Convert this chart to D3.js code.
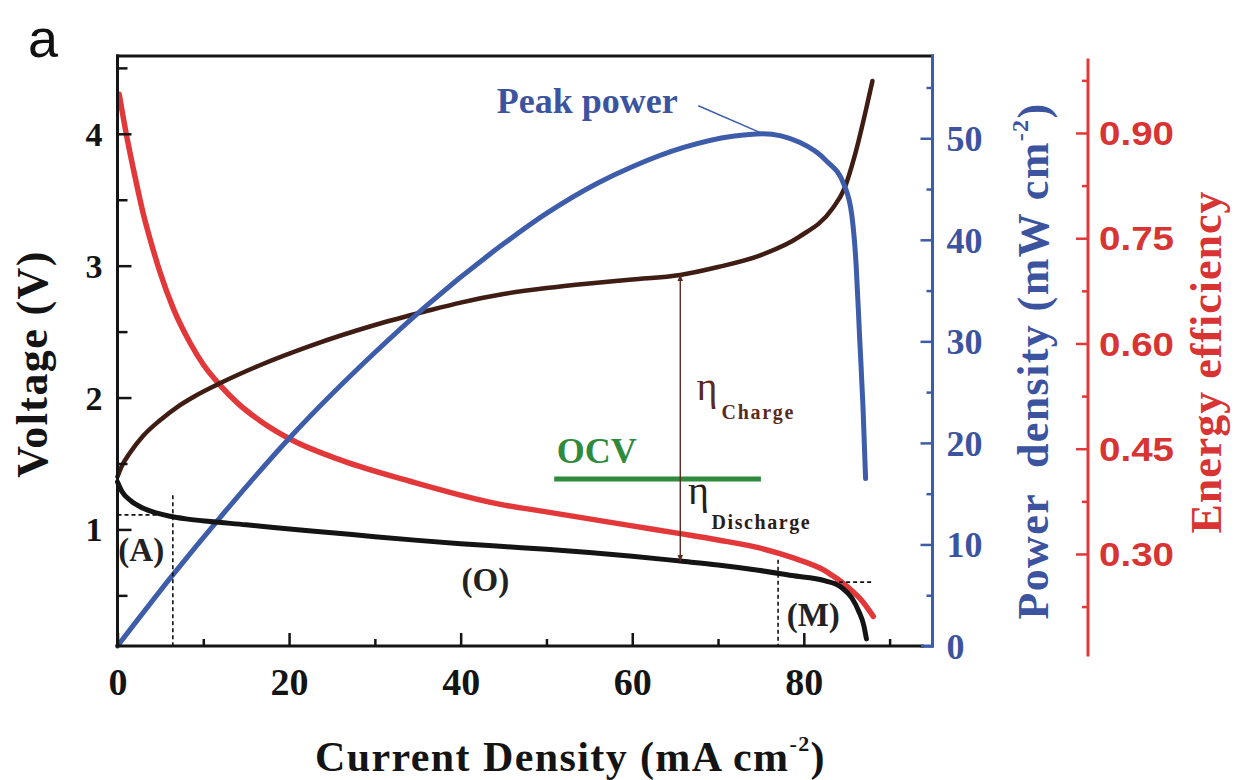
<!DOCTYPE html>
<html>
<head>
<meta charset="utf-8">
<script src="https://cdn.jsdelivr.net/npm/d3@7"></script>
<style>
  html, body { margin: 0; padding: 0; background: #fff; }
  svg { display: block; }
</style>
</head>
<body>
<svg id="chart" width="1243" height="780"></svg>
<script>
// ---- measured data -------------------------------------------------------
// Discharge polarization curve: current density (mA cm^-2) vs cell voltage (V)
const dischargeI = [0, 0.5, 1.5, 3, 4.5, 6.1, 8, 10.8, 15, 18.5, 25, 30, 35, 40, 45, 50, 55, 60, 65.6, 70, 74.7, 78.6, 82.5, 84.4, 85.6, 86.4, 87.0, 87.3];
const dischargeV = [1.36, 1.29, 1.22, 1.16, 1.125, 1.10, 1.08, 1.06, 1.035, 1.012, 0.975, 0.945, 0.917, 0.892, 0.87, 0.849, 0.825, 0.797, 0.76, 0.73, 0.69, 0.65, 0.61, 0.56, 0.48, 0.38, 0.27, 0.17];

// Charge polarization curve
const chargeI = [0, 0.5, 1.5, 3, 5, 7, 9, 12, 16.6, 22.4, 30, 36, 40, 45, 50, 55, 60, 65.6, 70, 75, 79.5, 83.3, 84.7, 86.0, 87.2, 88.0];
const chargeV = [1.40, 1.48, 1.585, 1.71, 1.83, 1.93, 2.01, 2.11, 2.245, 2.39, 2.55, 2.655, 2.72, 2.785, 2.83, 2.865, 2.895, 2.93, 2.99, 3.08, 3.22, 3.43, 3.58, 3.85, 4.17, 4.40];

// Discharge power density (mW cm^-2)
const powerI = [0, 6.45, 12, 20.4, 30, 36, 45, 50, 56, 60, 66, 71.7, 75.2, 79.5, 82.6, 84.7, 85.6, 86.1, 86.5, 86.9, 87.2];
const powerP = [0, 7.0, 12.7, 20.8, 28.9, 33.5, 39.6, 42.6, 45.6, 47.2, 49.1, 50.2, 50.45, 49.6, 47.8, 45.4, 42.4, 37.5, 30.5, 23.5, 16.5];

// Round-trip energy efficiency
const effI = [0.2, 1, 2, 3, 4, 5, 6.5, 8.5, 10, 12, 14, 16.6, 20.4, 26.2, 34, 44.5, 50, 55, 60, 65.6, 70, 74.7, 78.6, 82.5, 85.2, 86.8, 88.1];
const effE = [0.955, 0.90, 0.84, 0.785, 0.74, 0.70, 0.65, 0.60, 0.57, 0.54, 0.515, 0.49, 0.462, 0.433, 0.404, 0.371, 0.36, 0.35, 0.34, 0.329, 0.32, 0.309, 0.295, 0.276, 0.252, 0.233, 0.211];

// Open-circuit voltage marker and the current where overpotentials are shown
const ocvV = 1.383;
const ocvSpan = [50.9, 75];
const etaI = 65.6;

// Polarization regions: activation (A), ohmic (O), mass transport (M)
const regionA = { I: 6.45, V: 1.11, top: 1.26 };
const regionM = { I: 77, top: 0.77, V: 0.60, span: [83.3, 88.2] };

// Tick values
const xTicks = [0, 20, 40, 60, 80];
const xMinor = [10, 30, 50, 70, 90];
const vTicks = [1, 2, 3, 4];
const vMinor = [0.5, 1.5, 2.5, 3.5, 4.5];
const pTicks = [0, 10, 20, 30, 40, 50];
const pMinor = [5, 15, 25, 35, 45, 55];
const eTicks = [0.30, 0.45, 0.60, 0.75, 0.90];
const eMinor = [0.225, 0.375, 0.525, 0.675, 0.825, 0.975];

// ---- layout --------------------------------------------------------------
const M = { left: 117.5, right: 932.5, top: 56, bottom: 646 };
const effAxisX = 1088;
const SERIF = "'Liberation Serif','Times New Roman',Times,serif";
const SANS = "'Liberation Sans',Arial,Helvetica,sans-serif";
const C = {
  black: "#141414", brown: "#3f1c14", blue: "#3d5ca9", blueText: "#3c54a0",
  red: "#e2383a", redText: "#d83434", green: "#2f8a3e", eta: "#5a2a20"
};

const svg = d3.select("#chart");

const x = d3.scaleLinear().domain([0, 95]).range([M.left, M.right]);
const yV = d3.scaleLinear().domain([0.116, 4.59]).range([M.bottom, M.top]);
const yP = d3.scaleLinear().domain([0, 58.1]).range([M.bottom, M.top]);
const yE = d3.scaleLinear().domain([0.156, 1.004]).range([655, 60]);

const zip = (a, b) => a.map((v, i) => [v, b[i]]);

// ---- curves --------------------------------------------------------------
const lineV = d3.line().x(d => x(d[0])).y(d => yV(d[1])).curve(d3.curveMonotoneX);
const lineP = d3.line().x(d => x(d[0])).y(d => yP(d[1])).curve(d3.curveMonotoneX);
const lineE = d3.line().x(d => x(d[0])).y(d => yE(d[1])).curve(d3.curveMonotoneX);

const curves = svg.append("g").attr("fill", "none").attr("stroke-linecap", "round").attr("stroke-linejoin", "round");
curves.append("path").attr("d", lineE(zip(effI, effE))).attr("stroke", C.red).attr("stroke-width", 5.5);
curves.append("path").attr("d", lineV(zip(chargeI, chargeV))).attr("stroke", C.brown).attr("stroke-width", 4.5);
curves.append("path").attr("d", lineP(zip(powerI, powerP))).attr("stroke", C.blue).attr("stroke-width", 5);
curves.append("path").attr("d", lineV(zip(dischargeI, dischargeV))).attr("stroke", C.black).attr("stroke-width", 5);

// ---- region guides (dashed) ----------------------------------------------
const guides = svg.append("g").attr("stroke", "#111").attr("stroke-width", 1.6).attr("stroke-dasharray", "4,3").attr("fill", "none");
const vMin = yV.domain()[0];
guides.append("line").attr("x1", x(0)).attr("x2", x(regionA.I)).attr("y1", yV(regionA.V)).attr("y2", yV(regionA.V));
guides.append("line").attr("x1", x(regionA.I)).attr("x2", x(regionA.I)).attr("y1", yV(regionA.top)).attr("y2", yV(vMin));
guides.append("line").attr("x1", x(regionM.I)).attr("x2", x(regionM.I)).attr("y1", yV(regionM.top)).attr("y2", yV(vMin));
guides.append("line").attr("x1", x(regionM.span[0])).attr("x2", x(regionM.span[1])).attr("y1", yV(regionM.V)).attr("y2", yV(regionM.V));

// ---- OCV line and overpotential arrow ------------------------------------
svg.append("line")
  .attr("x1", x(ocvSpan[0])).attr("x2", x(ocvSpan[1]))
  .attr("y1", yV(ocvV)).attr("y2", yV(ocvV))
  .attr("stroke", C.green).attr("stroke-width", 5);

const defs = svg.append("defs");
defs.append("marker").attr("id", "arrowHead")
  .attr("viewBox", "0 0 10 10").attr("refX", 9).attr("refY", 5)
  .attr("markerWidth", 7).attr("markerHeight", 7).attr("markerUnits", "userSpaceOnUse")
  .attr("orient", "auto-start-reverse")
  .append("path").attr("d", "M0,1 L10,5 L0,9 Z").attr("fill", C.eta);

const etaTop = chargeV[chargeI.indexOf(etaI)];
const etaBottom = dischargeV[dischargeI.indexOf(etaI)];
svg.append("line")
  .attr("x1", x(etaI)).attr("x2", x(etaI))
  .attr("y1", yV(etaTop)).attr("y2", yV(etaBottom))
  .attr("stroke", C.eta).attr("stroke-width", 1.4)
  .attr("marker-start", "url(#arrowHead)").attr("marker-end", "url(#arrowHead)");

// ---- peak power leader ---------------------------------------------------
const peakIdx = d3.maxIndex(powerP);
const peakI = powerI[peakIdx], peakP = powerP[peakIdx];
svg.append("line")
  .attr("x1", x(67.7)).attr("y1", yP(53.2))
  .attr("x2", x(peakI)).attr("y2", yP(peakP))
  .attr("stroke", C.blue).attr("stroke-width", 1.5);

// ---- axes ----------------------------------------------------------------
function styleTicks(g, color, width) {
  g.select(".domain").remove();
  g.selectAll(".tick line").attr("stroke", color).attr("stroke-width", width);
}

// bottom (current density)
const gxMinor = svg.append("g").attr("transform", `translate(0,${M.bottom})`)
  .call(d3.axisBottom(x).tickValues(xMinor).tickSize(-7).tickFormat(""));
styleTicks(gxMinor, C.black, 2.5);
const gx = svg.append("g").attr("transform", `translate(0,${M.bottom})`)
  .call(d3.axisBottom(x).tickValues(xTicks).tickSize(-13).tickFormat(d3.format("d")));
styleTicks(gx, C.black, 2.5);
gx.selectAll("text").attr("y", 49).attr("dy", null)
  .attr("font-family", SERIF).attr("font-weight", "bold").attr("font-size", 38).attr("fill", C.black);

// left (voltage)
const gyMinor = svg.append("g").attr("transform", `translate(${M.left},0)`)
  .call(d3.axisLeft(yV).tickValues(vMinor).tickSize(-10).tickFormat(""));
styleTicks(gyMinor, C.black, 2.5);
const gy = svg.append("g").attr("transform", `translate(${M.left},0)`)
  .call(d3.axisLeft(yV).tickValues(vTicks).tickSize(-14).tickFormat(d3.format("d")));
styleTicks(gy, C.black, 2.5);
gy.selectAll("text").attr("x", -15).attr("dy", "0.34em")
  .attr("font-family", SERIF).attr("font-weight", "bold").attr("font-size", 34).attr("fill", C.black);

// right (power density)
const gpMinor = svg.append("g").attr("transform", `translate(${M.right},0)`)
  .call(d3.axisRight(yP).tickValues(pMinor).tickSize(-6).tickFormat(""));
styleTicks(gpMinor, C.blue, 2.5);
const gp = svg.append("g").attr("transform", `translate(${M.right},0)`)
  .call(d3.axisRight(yP).tickValues(pTicks).tickSize(-12).tickFormat(d3.format("d")));
styleTicks(gp, C.blue, 2.5);
gp.selectAll("text").attr("x", 14).attr("dy", "0.34em")
  .attr("font-family", SERIF).attr("font-weight", "bold").attr("font-size", 36).attr("fill", C.blueText);

// far right (energy efficiency)
const geMinor = svg.append("g").attr("transform", `translate(${effAxisX},0)`)
  .call(d3.axisRight(yE).tickValues(eMinor).tickSize(-6).tickFormat(""));
styleTicks(geMinor, C.red, 2.5);
const ge = svg.append("g").attr("transform", `translate(${effAxisX},0)`)
  .call(d3.axisRight(yE).tickValues(eTicks).tickSize(-12).tickFormat(d3.format(".2f")));
styleTicks(ge, C.red, 2.5);
ge.selectAll("text").attr("x", 11).attr("dy", "0.35em")
  .attr("font-family", SANS).attr("font-weight", "bold").attr("font-size", 33)
  .attr("textLength", 75).attr("lengthAdjust", "spacingAndGlyphs").attr("fill", C.redText);

// frame and axis lines
const frame = svg.append("g").attr("stroke-width", 3).attr("stroke-linecap", "square");
frame.append("line").attr("x1", M.left).attr("x2", M.right).attr("y1", M.top).attr("y2", M.top).attr("stroke", C.black);
frame.append("line").attr("x1", M.left).attr("x2", M.left).attr("y1", M.top).attr("y2", M.bottom).attr("stroke", C.black);
frame.append("line").attr("x1", M.left).attr("x2", M.right - 10).attr("y1", M.bottom).attr("y2", M.bottom).attr("stroke", C.black);
frame.append("line").attr("x1", M.right - 10).attr("x2", M.right).attr("y1", M.bottom).attr("y2", M.bottom).attr("stroke", C.blue);
frame.append("line").attr("x1", M.right).attr("x2", M.right).attr("y1", M.top).attr("y2", M.bottom).attr("stroke", C.blue);
frame.append("line").attr("x1", effAxisX).attr("x2", effAxisX)
  .attr("y1", yE(yE.domain()[1])).attr("y2", yE(yE.domain()[0])).attr("stroke", C.red);

// ---- axis titles ---------------------------------------------------------
const xt = svg.append("text").attr("x", 315).attr("y", 771)
  .attr("font-family", SERIF).attr("font-weight", "bold").attr("font-size", 42)
  .attr("fill", C.black).style("letter-spacing", "1.4px");
xt.append("tspan").text("Current Density (mA cm");
xt.append("tspan").attr("font-size", 22).attr("dy", -20).text("-2");
xt.append("tspan").attr("dy", 20).text(")");

svg.append("text").attr("transform", "translate(47,364) rotate(-90)")
  .attr("text-anchor", "middle")
  .attr("font-family", SERIF).attr("font-weight", "bold").attr("font-size", 44)
  .attr("fill", C.black).style("letter-spacing", "1.4px")
  .text("Voltage (V)");

const pt = svg.append("text").attr("transform", "translate(1048,361) rotate(-90)")
  .attr("text-anchor", "middle")
  .attr("font-family", SERIF).attr("font-weight", "bold").attr("font-size", 44)
  .attr("fill", C.blueText).style("letter-spacing", "1.4px");
pt.append("tspan").text("Power\u00a0 density (mW cm");
pt.append("tspan").attr("font-size", 24).attr("dy", -20).text("-2");
pt.append("tspan").attr("dy", 20).text(")");

svg.append("text").attr("transform", "translate(1221,362) rotate(-90)")
  .attr("text-anchor", "middle")
  .attr("font-family", SERIF).attr("font-weight", "bold").attr("font-size", 44)
  .attr("fill", C.redText).style("letter-spacing", "1px")
  .text("Energy efficiency");

// ---- annotations ---------------------------------------------------------
svg.append("text").attr("x", 28).attr("y", 57)
  .attr("font-family", SANS).attr("font-size", 54).attr("fill", "#111").text("a");

svg.append("text").attr("x", x(44.2)).attr("y", yP(52.5))
  .attr("font-family", SERIF).attr("font-weight", "bold").attr("font-size", 36)
  .attr("fill", C.blueText).text("Peak power");

svg.append("text").attr("x", x(51.2)).attr("y", yV(1.506))
  .attr("font-family", SERIF).attr("font-weight", "bold").attr("font-size", 36)
  .attr("fill", C.green).text("OCV");

const region = (label, I, V) => svg.append("text").attr("x", x(I)).attr("y", yV(V))
  .attr("font-family", SERIF).attr("font-weight", "bold").attr("font-size", 33)
  .attr("fill", "#222").text(label);
region("(A)", 0.1, 0.76);
region("(O)", 40.1, 0.53);
region("(M)", 78.0, 0.27);

function eta(sub, I, V, subI, subV, subLen, color) {
  svg.append("text").attr("x", x(I)).attr("y", yV(V))
    .attr("font-family", SERIF).attr("font-size", 40).attr("fill", color).text("\u03b7");
  svg.append("text").attr("x", x(subI)).attr("y", yV(subV))
    .attr("font-family", SERIF).attr("font-weight", "bold").attr("font-size", 20)
    .attr("textLength", subLen).attr("lengthAdjust", "spacing")
    .attr("fill", color).text(sub);
}
eta("Charge", 67.5, 1.98, 70.4, 1.84, 72, C.eta);
eta("Discharge", 66.5, 1.19, 69.25, 1.0, 98, "#2a1c18");
</script>
</body>
</html>
